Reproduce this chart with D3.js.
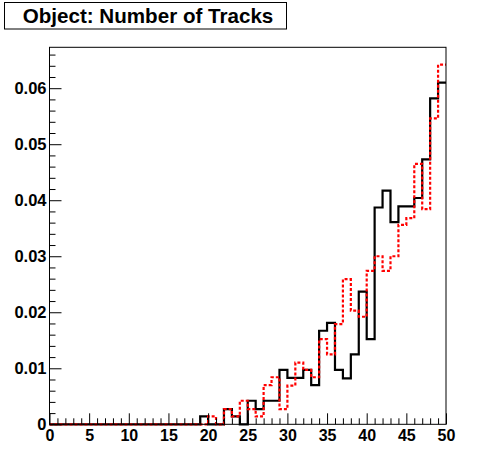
<!DOCTYPE html>
<html>
<head>
<meta charset="utf-8">
<script src="https://cdn.jsdelivr.net/npm/d3@7"></script>
<style>
  html, body { margin: 0; padding: 0; background: #fff; }
  svg { display: block; }
  text { font-family: "Liberation Sans", Arial, Helvetica, sans-serif; font-weight: bold; }
</style>
</head>
<body>
<svg id="chart" width="496" height="472"></svg>
<script>
// ---- data ----
const titleText = "Object: Number of Tracks";
const binEdges = d3.range(0, 51); // 0..50, width 1
const blackValues = [
  0,0,0,0,0,0,0,0,0,0,
  0,0,0,0,0,0,0,0,0,0.0014,
  0,0,0.0027,0.0014,0,0.0042,0.0027,0.0042,0.0042,0.0097,
  0.0083,0.0083,0.0097,0.0070,0.0167,0.0181,0.0097,0.0082,0.0125,0.0237,
  0.0152,0.0387,0.0417,0.0361,0.0389,0.0389,0.0404,0.0473,0.0582,0.0610
];
const redValues = [
  0,0,0,0,0,0,0,0,0,0,
  0,0,0,0,0,0,0,0,0,0,
  0.0014,0,0.0027,0.0014,0.0042,0.0027,0.0014,0.0070,0.0084,0.0027,
  0.0069,0.0110,0.0097,0.0084,0.0152,0.0125,0.0179,0.0259,0.0203,0.0192,
  0.0274,0.0300,0.0274,0.0300,0.0356,0.0368,0.0465,0.0384,0.0546,0.0642
];
const xMajorTicks = [0,5,10,15,20,25,30,35,40,45,50];
const yMajorTicks = [0,0.01,0.02,0.03,0.04,0.05,0.06];
const yLabels = ["0","0.01","0.02","0.03","0.04","0.05","0.06"];
const xDomain = [0, 50];
const yDomain = [0, 0.0673];

// ---- layout ----
const L = 49.5, R = 446, T = 47.3, B = 424.3;
const svg = d3.select("#chart");
const x = d3.scaleLinear().domain(xDomain).range([L, R]);
const y = d3.scaleLinear().domain(yDomain).range([B, T]);

// histogram step paths
function stepPoints(vals) {
  const pts = [];
  vals.forEach((v, i) => { pts.push([binEdges[i], v]); pts.push([binEdges[i + 1], v]); });
  return pts;
}
const line = d3.line().x(d => x(d[0])).y(d => y(d[1]));

svg.append("path")
  .attr("d", line(stepPoints(blackValues)))
  .attr("fill", "none").attr("stroke", "#000").attr("stroke-width", 2.2)
  .attr("stroke-linejoin", "miter");

svg.append("path")
  .attr("d", line(stepPoints(redValues)))
  .attr("fill", "none").attr("stroke", "#ff0000").attr("stroke-width", 2.2)
  .attr("stroke-dasharray", "3,2");

// x axis
const xMinor = d3.range(0, 51, 1).filter(v => v % 5 !== 0);
const gx = svg.append("g").attr("transform", `translate(0,${B})`);
gx.call(d3.axisBottom(x).tickValues(xMajorTicks).tickSize(-11).tickPadding(5).tickFormat(d3.format("d")));
gx.selectAll(".tick").data(xMajorTicks);
svg.append("g").attr("transform", `translate(0,${B})`)
  .call(d3.axisBottom(x).tickValues(xMinor).tickSize(-6).tickFormat(""))
  .select(".domain").remove();
gx.select(".domain").remove();
gx.selectAll("text").attr("font-size", 16).attr("fill", "#000")
  .style("font-family", "'Liberation Sans', Arial, sans-serif").style("font-weight", "bold");

// y axis
const yMinor = d3.range(0, 0.0673, 0.002).filter(v => Math.abs(v / 0.01 - Math.round(v / 0.01)) > 1e-6);
const gy = svg.append("g").attr("transform", `translate(${L},0)`);
gy.call(d3.axisLeft(y).tickValues(yMajorTicks).tickSize(-12).tickPadding(3)
  .tickFormat((d, i) => yLabels[i]));
gy.select(".domain").remove();
svg.append("g").attr("transform", `translate(${L},0)`)
  .call(d3.axisLeft(y).tickValues(yMinor).tickSize(-6).tickFormat(""))
  .select(".domain").remove();
gy.selectAll("text").attr("font-size", 16.5).attr("fill", "#000")
  .style("font-family", "'Liberation Sans', Arial, sans-serif").style("font-weight", "bold");

svg.selectAll(".tick line").attr("stroke", "#000").attr("stroke-width", 1);

// frame
svg.append("rect").attr("x", L).attr("y", T).attr("width", R - L).attr("height", B - T)
  .attr("fill", "none").attr("stroke", "#000").attr("stroke-width", 1);

// title box
svg.append("rect").attr("x", 4.5).attr("y", 2.5).attr("width", 282).attr("height", 26.5)
  .attr("fill", "#fff").attr("stroke", "#000").attr("stroke-width", 1);
svg.append("text").attr("x", 22.7).attr("y", 22.5).attr("font-size", 20.6)
  .attr("fill", "#000").text(titleText);
</script>
</body>
</html>
